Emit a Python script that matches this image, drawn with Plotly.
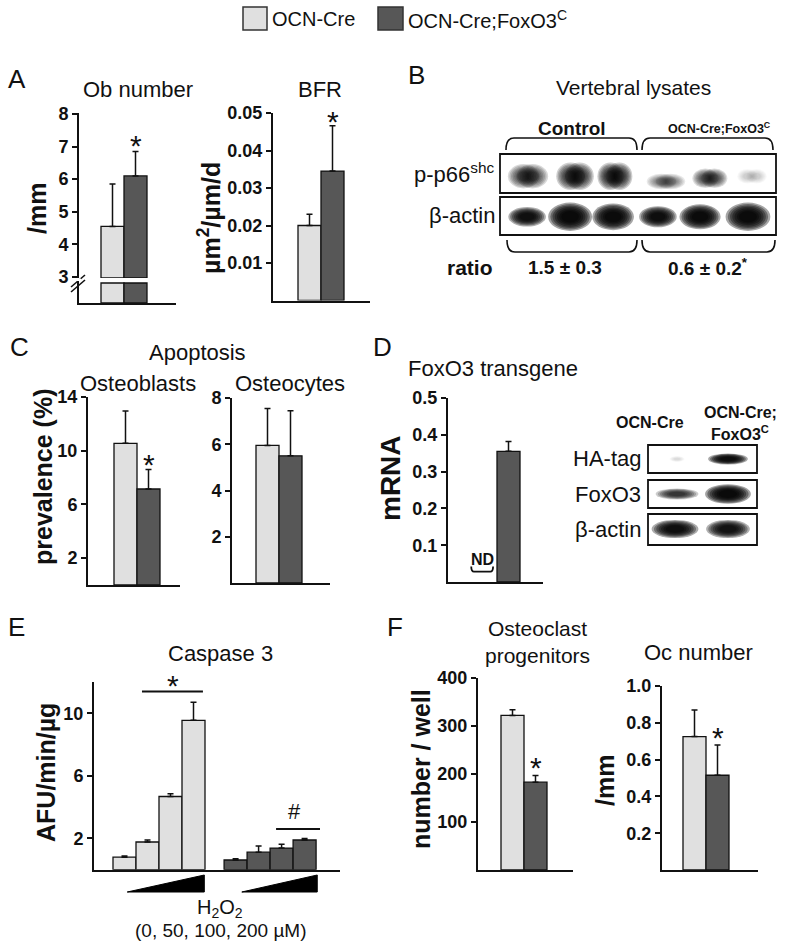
import plotly.graph_objects as go

W, H = 800, 950
FONT = "Liberation Sans, Arial, Helvetica, sans-serif"
LIGHT = "#e0e0e0"
DARK = "#575757"
INK = "#111111"


def px(x):
    return x / W


def py(y):
    return 1 - y / H


# ---------------- data ----------------
genotypes = ["OCN-Cre", "OCN-Cre;FoxO3<sup>C</sup>"]

ob_number = [4.55, 6.10]
ob_number_top = [5.85, 6.85]
bfr = [0.0200, 0.0345]
bfr_top = [0.0230, 0.0466]

ob_apoptosis = [10.55, 7.15]
ob_apoptosis_top = [12.95, 8.60]
ocy_apoptosis = [5.95, 5.50]
ocy_apoptosis_top = [7.55, 7.45]

foxo3_mrna = [0.355]          # OCN-Cre;FoxO3C only, OCN-Cre not detected
foxo3_mrna_top = [0.382]

h2o2_um = [0, 50, 100, 200]
casp3_ctrl = [0.80, 1.77, 4.68, 9.55]
casp3_ctrl_top = [0.88, 1.90, 4.85, 10.70]
casp3_tg = [0.62, 1.12, 1.38, 1.90]
casp3_tg_top = [0.70, 1.52, 1.62, 2.00]

ocp_number = [322, 183]
ocp_number_top = [334, 197]
oc_number = [0.725, 0.515]
oc_number_top = [0.870, 0.680]

# western blot band intensities (0 = none, 1 = saturated)
b_p66 = [0.62, 0.78, 0.82, 0.38, 0.58, 0.12]
b_actin = [0.88, 1.00, 0.97, 0.92, 0.97, 0.97]
b_ratio = ["1.5 ± 0.3", "0.6 ± 0.2<sup>*</sup>"]
d_ha = [0.05, 0.95]
d_foxo3 = [0.55, 1.00]
d_actin = [0.90, 0.85]

# ---------------- layout helpers ----------------
BASE_BREAK = 2.969  # bottom of upper (broken) segment in Ob number panel

P = {
    1: dict(ax=(79, 176), bl=101, y=(113, 278), yr=(BASE_BREAK, 8.03), tv=[3, 4, 5, 6, 7, 8], fmt=None),
    2: dict(ax=(79, 176), bl=101, y=(281, 303), yr=(0, 3.3), tv=[], fmt=None),
    3: dict(ax=(273, 370), bl=298, y=(113, 300.5), yr=(0, 0.05), tv=[0.01, 0.02, 0.03, 0.04, 0.05], fmt=".2f"),
    4: dict(ax=(88, 180), bl=114, y=(397, 585), yr=(0, 14), tv=[2, 6, 10, 14], fmt=None),
    5: dict(ax=(232, 330), bl=256, y=(398, 583), yr=(0, 8), tv=[2, 4, 6, 8], fmt=None),
    6: dict(ax=(448, 543), bl=474, y=(398, 582), yr=(0, 0.5), tv=[0.1, 0.2, 0.3, 0.4, 0.5], fmt=".1f"),
    7: dict(ax=(94, 340), bl=113, y=(682, 869.7), yr=(0, 12), tv=[2, 6, 10], fmt=None),
    8: dict(ax=(478, 573), bl=501, y=(678, 870), yr=(0, 400), tv=[100, 200, 300, 400], fmt=None),
    9: dict(ax=(662, 758), bl=683, y=(686, 870), yr=(0, 1), tv=[0.2, 0.4, 0.6, 0.8, 1.0], fmt=".1f"),
}
BW = 23.0

fig = go.Figure()
layout = {}


def axname(n, letter):
    return f"{letter}axis" if n == 1 else f"{letter}axis{n}"


def ref(n, letter):
    return letter if n == 1 else f"{letter}{n}"


for n, p in P.items():
    l, r = p["ax"]
    xr = [-0.5 - (p["bl"] - l) / BW, -0.5 + (r - p["bl"]) / BW]
    top, bot = p["y"]
    layout[axname(n, "x")] = dict(
        domain=[px(l), px(r)], range=xr, anchor=ref(n, "y"), automargin=False,
        showline=(n != 1), linecolor=INK, linewidth=2, showticklabels=False,
        ticks="", showgrid=False, zeroline=False, fixedrange=True)
    layout[axname(n, "y")] = dict(
        domain=[py(bot), py(top)], range=list(p["yr"]), anchor=ref(n, "x"), automargin=False,
        showline=True, linecolor=INK, linewidth=2,
        ticks="outside" if p["tv"] else "", ticklen=5, tickwidth=2, tickcolor=INK,
        tickvals=p["tv"], showticklabels=bool(p["tv"]), tickformat=p["fmt"],
        tickfont=dict(family=FONT, size=18, color=INK, weight="bold"),
        showgrid=False, zeroline=False, fixedrange=True)


def errs(means, tops):
    return dict(type="data", symmetric=False,
                array=[t - m for m, t in zip(means, tops)],
                arrayminus=[0] * len(means), color=INK, thickness=1.5, width=3)


def bars(n, xs, means, tops=None, colors=None, base=None):
    kw = {}
    if tops is not None:
        kw["error_y"] = errs(means, tops)
    y = means if base is None else [m - base for m in means]
    fig.add_trace(go.Bar(
        x=xs, y=y, base=base, width=1, xaxis=ref(n, "x"), yaxis=ref(n, "y"),
        marker=dict(color=colors, line=dict(color=INK, width=1.3)),
        showlegend=False, hoverinfo="skip", **kw))


two = [LIGHT, DARK]
# A
bars(1, [0, 1], ob_number, ob_number_top, two, base=BASE_BREAK)
bars(2, [0, 1], [min(v, 3) for v in ob_number], None, two)
bars(3, [0, 1], bfr, bfr_top, two)
# C
bars(4, [0, 1], ob_apoptosis, ob_apoptosis_top, two)
bars(5, [0, 1], ocy_apoptosis, ocy_apoptosis_top, two)
# D
bars(6, [1], foxo3_mrna, foxo3_mrna_top, [DARK])
# E
GROUP2 = 4.83
xs1 = list(range(len(h2o2_um)))
xs2 = [i + GROUP2 for i in xs1]
bars(7, xs1, casp3_ctrl, casp3_ctrl_top, [LIGHT] * 4)
bars(7, xs2, casp3_tg, casp3_tg_top, [DARK] * 4)
# F
bars(8, [0, 1], ocp_number, ocp_number_top, two)
bars(9, [0, 1], oc_number, oc_number_top, two)

# blot axes
layout["xaxis10"] = dict(domain=[px(500), px(776)], range=[0.375, 6.536], visible=False, fixedrange=True, anchor="y10")
layout["yaxis10"] = dict(domain=[py(235), py(154)], range=[1.5, -0.5], visible=False, fixedrange=True, anchor="x10")
layout["xaxis11"] = dict(domain=[px(648), px(757)], range=[0.43, 2.57], visible=False, fixedrange=True, anchor="y11")
layout["yaxis11"] = dict(domain=[py(545), py(445)], range=[2.457, -0.4], visible=False, fixedrange=True, anchor="x11")
for n in (10, 11):
    fig.add_trace(go.Scatter(x=[1], y=[0], xaxis=f"x{n}", yaxis=f"y{n}", mode="markers",
                             marker=dict(opacity=0), showlegend=False, hoverinfo="skip"))

shapes = []
ann = []


def txt(x, y, s, size, bold=False, xa="center", ya="middle", angle=0):
    ann.append(dict(x=px(x), y=py(y), xref="paper", yref="paper", text=s, showarrow=False,
                    font=dict(family=FONT, size=size, color=INK, weight="bold" if bold else "normal"),
                    xanchor=xa, yanchor=ya, textangle=angle))


def rect(x0, y0, x1, y1, fill="rgba(0,0,0,0)", lw=1.8, lc=INK):
    shapes.append(dict(type="rect", xref="paper", yref="paper", x0=px(x0), x1=px(x1),
                       y0=py(y0), y1=py(y1), fillcolor=fill, line=dict(color=lc, width=lw), layer="above"))


BAND_LAYERS = [1.0, 0.9, 0.8, 0.7, 0.6, 0.5, 0.4]


def band(n, xc, yc, w, h, inten, spread=0.0):
    # spread > 0 gives a wider, flatter (smudged) band made of two overlapping blobs
    centers = [xc] if spread == 0 else [xc - spread, xc + spread]
    a = min(1, inten * (0.36 if spread == 0 else 0.24))
    for c in centers:
        for s in BAND_LAYERS:
            shapes.append(dict(type="circle", xref=f"x{n}", yref=f"y{n}",
                               x0=c - w * s / 2, x1=c + w * s / 2, y0=yc - h * s / 2, y1=yc + h * s / 2,
                               fillcolor="black", opacity=a, line=dict(width=0), layer="above"))


def brace(x0, x1, y_end, y_mid, r=8):
    path = (f"M {px(x0)},{py(y_end)} Q {px(x0)},{py(y_mid)} {px(x0 + r)},{py(y_mid)} "
            f"L {px(x1 - r)},{py(y_mid)} Q {px(x1)},{py(y_mid)} {px(x1)},{py(y_end)}")
    shapes.append(dict(type="path", xref="paper", yref="paper", path=path,
                       line=dict(color=INK, width=1.6)))


# ---------------- legend ----------------
rect(243, 7, 267, 30, fill=LIGHT, lw=1.5, lc="#333")
txt(270, 19, genotypes[0], 20, xa="left")
rect(378, 7, 403, 30, fill=DARK, lw=1.5, lc="#333")
txt(406, 19, genotypes[1], 20, xa="left")

# ---------------- A ----------------
txt(6, 79, "A", 26, xa="left")
txt(138, 90, "Ob number", 22)
txt(320, 90, "BFR", 22)
txt(37, 209, "/mm", 25, bold=True, angle=-90)
txt(209, 218, "µm<sup>2</sup>/µm/d", 25, bold=True, angle=-90)
for dy in (0, 5):
    shapes.append(dict(type="line", xref="paper", yref="paper", x0=px(71), y0=py(287 + dy),
                       x1=px(85), y1=py(275 + dy), line=dict(color=INK, width=1.6)))
shapes.append(dict(type="line", xref="paper", yref="paper", x0=px(79), x1=px(79),
                   y0=py(278.5), y1=py(281), line=dict(color="white", width=4)))

# ---------------- B ----------------
txt(406, 75, "B", 26, xa="left")
txt(633, 88, "Vertebral lysates", 21)
txt(572, 128, "Control", 19, bold=True)
txt(719, 128, "OCN-Cre;FoxO3<sup>C</sup>", 12.5, bold=True)
brace(506, 637, 150, 138)
brace(642, 773, 150, 138)
rect(500, 154, 776, 193)
rect(500, 197, 776, 235)
brace(507, 637, 240, 252)
brace(642, 775, 240, 252)
txt(497, 173, "p-p66<sup>shc</sup>", 22, xa="right")
txt(497, 215, "β-actin", 22, xa="right")
txt(470, 267, "ratio", 21, bold=True)
txt(565, 267, b_ratio[0], 19, bold=True)
txt(708, 267, b_ratio[1], 19, bold=True)

p66_x = [1.0, 2.05, 2.94, 4.08, 5.06, 6.0]
p66_dy = [0.05, 0.05, 0.05, 0.18, 0.10, 0.05]
p66_w = [0.70, 0.64, 0.58, 0.66, 0.58, 0.46]
p66_h = [0.60, 0.68, 0.68, 0.38, 0.48, 0.36]
act_x = [0.98, 1.94, 2.90, 3.90, 4.84, 5.91]
act_w = [0.84, 0.98, 0.93, 0.84, 0.92, 1.0]
act_h = [0.48, 0.70, 0.66, 0.52, 0.62, 0.70]
for i, v in enumerate(b_p66):
    band(10, p66_x[i], 0 + p66_dy[i], p66_w[i], p66_h[i], v, spread=0.1)
for i, v in enumerate(b_actin):
    band(10, act_x[i], 1 + 0.05, act_w[i], act_h[i], v)

# ---------------- C ----------------
txt(8, 347, "C", 26, xa="left")
txt(197, 352, "Apoptosis", 22)
txt(138, 383, "Osteoblasts", 22)
txt(290, 383, "Osteocytes", 22)
txt(43, 477, "prevalence (%)", 25, bold=True, angle=-90)

# ---------------- D ----------------
txt(371, 347, "D", 26, xa="left")
txt(493, 368, "FoxO3 transgene", 22)
txt(390, 478, "mRNA", 28, bold=True, angle=-90)
shapes.append(dict(type="path", xref="x6", yref="y6",
                   path="M -0.62,0.042 Q -0.62,0.028 -0.5,0.028 L 0.21,0.028 Q 0.33,0.028 0.33,0.042",
                   line=dict(color=INK, width=1.8)))
ann.append(dict(x=-0.15, y=0.062, xref="x6", yref="y6", text="ND", showarrow=False,
                yanchor="middle", font=dict(family=FONT, size=16, color=INK, weight="bold")))
txt(650, 423, "OCN-Cre", 16, bold=True)
txt(740, 413, "OCN-Cre;", 16, bold=True)
txt(740, 433, "FoxO3<sup>C</sup>", 16, bold=True)
rect(648, 445, 757, 473)
rect(648, 480, 757, 508)
rect(648, 514, 757, 545)
txt(643, 458, "HA-tag", 22, xa="right")
txt(643, 494, "FoxO3", 22, xa="right")
txt(643, 529, "β-actin", 22, xa="right")
band(11, 1.0, 0.0, 0.30, 0.17, d_ha[0])
band(11, 2.0, 0.0, 0.78, 0.32, d_ha[1])
band(11, 1.0, 1.0, 0.84, 0.32, d_foxo3[0])
band(11, 2.0, 1.0, 0.90, 0.56, d_foxo3[1])
band(11, 0.96, 2.0, 0.92, 0.52, d_actin[0])
band(11, 2.0, 2.0, 0.86, 0.52, d_actin[1])

# ---------------- E ----------------
txt(6, 627, "E", 26, xa="left")
txt(220, 653, "Caspase 3", 22)
txt(46, 773, "AFU/min/µg", 25, bold=True, angle=-90)
txt(220, 908, "H<sub>2</sub>O<sub>2</sub>", 20)
txt(220, 930, "(" + ", ".join(str(v) for v in h2o2_um) + " µM)", 19)
for g0, g1 in ((xs1[0] + 0.12, xs1[-1] + 0.47), (xs2[0] + 0.27, xs2[-1] + 0.55)):
    shapes.append(dict(type="path", xref="x7", yref="paper",
                       path=f"M {g0},{py(892)} L {g1},{py(892)} L {g1},{py(875)} Z",
                       fillcolor="black", line=dict(color="black", width=1)))
shapes.append(dict(type="line", xref="x7", yref="y7", x0=0.76, x1=3.41, y0=11.4, y1=11.4,
                   line=dict(color=INK, width=2)))
shapes.append(dict(type="line", xref="x7", yref="y7", x0=6.59, x1=8.5, y0=2.6, y1=2.6,
                   line=dict(color=INK, width=2)))

# ---------------- F ----------------
txt(385, 627, "F", 26, xa="left")
txt(537, 642, "Osteoclast<br>progenitors", 21)
txt(698, 652, "Oc number", 22)
txt(421, 769, "number / well", 25, bold=True, angle=-90)
txt(605, 781, "/mm", 25, bold=True, angle=-90)

# significance marks (data coords)
stars = [(1, 1, 7.26, "*"), (3, 1, 0.0495, "*"), (4, 1, 9.53, "*"),
         (7, 7.41, 3.7, "#"), (8, 1, 229, "*"), (9, 1, 0.76, "*")]
for n, x, y, s in stars:
    ann.append(dict(x=x, y=y, xref=ref(n, "x"), yref=ref(n, "y"), text=s, showarrow=False,
                    xanchor="center", yanchor="middle", yshift=-7 if s == "*" else 0,
                    font=dict(family=FONT, size=30 if s == "*" else 22, color=INK)))
# star above the top of the caspase axis (outside its range) -> paper coords
ann.append(dict(x=2.1, y=py(678), xref="x7", yref="paper", text="*", showarrow=False,
                xanchor="center", yanchor="middle", yshift=-7,
                font=dict(family=FONT, size=30, color=INK)))

fig.update_layout(
    template="none",
    width=W, height=H, margin=dict(l=0, r=0, t=0, b=0, pad=0, autoexpand=False),
    paper_bgcolor="white", plot_bgcolor="rgba(0,0,0,0)",
    showlegend=False, shapes=shapes, annotations=ann, bargap=0,
    font=dict(family=FONT, color=INK), **layout)

fig.write_html("out.html", config={"displayModeBar": False, "staticPlot": True},
               post_script="document.body.style.margin='0px';")
